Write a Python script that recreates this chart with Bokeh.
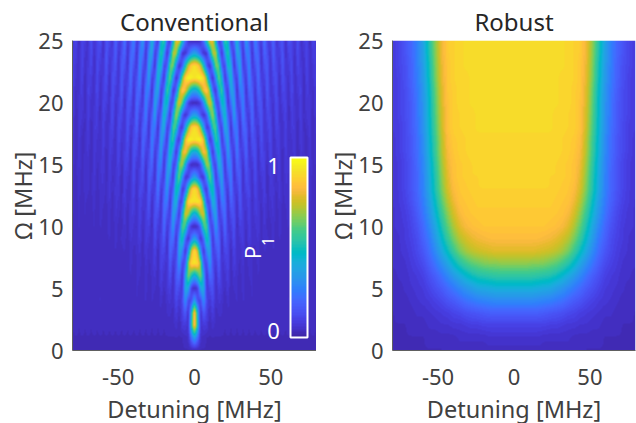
import numpy as np
from bokeh.embed import file_html
from bokeh.resources import INLINE
from bokeh.plotting import figure
from bokeh.layouts import row
from bokeh.models import LinearColorMapper, ColorBar, FixedTicker, Label, Range1d

detuning_ticks = [-50, 0, 50]
rabi_ticks = [0, 5, 10, 15, 20, 25]

# Conventional: P1 in percent. One row per Omega = 0..25 MHz, columns for detuning 0,2,..,80 MHz (mirror-symmetric)
conv_00 = [3]*41
conv_01 = [38,22,5,4,3,3,3,3,3,3,3,3,3,3,3,3,3,3,3,3,3,3,3,3,3,3,3,3,3,3,3,3,3,3,3,3,3,3,3,3,3]
conv_02 = [93,50,5,8,8,3,6,4,4,4,3,4,3,4,3,4,3,4,3,4,3,4,3,4,3,4,3,4,3,4,3,4,3,4,3,4,3,4,3,4,3]
conv_03 = [93,44,3,18,10,4,9,4,5,5,3,4,4,3,4,4,3,4,4,3,4,4,3,4,4,3,4,4,3,4,4,3,4,4,3,4,4,3,4,4,3]
conv_04 = [38,12,11,33,11,6,13,4,7,6,3,6,4,4,5,3,5,4,3,5,4,3,5,4,3,5,4,3,5,4,3,5,4,3,5,4,3,5,4,3,4]
conv_05 = [3,8,39,42,6,12,16,3,10,7,4,8,3,5,5,3,6,3,4,5,3,5,3,4,4,3,5,3,4,4,3,5,3,4,4,3,5,3,4,4,3]
conv_06 = [38,51,69,36,3,22,17,3,15,7,5,10,3,7,5,4,6,3,5,5,3,5,3,4,4,3,5,3,4,4,3,5,3,4,4,3,5,3,4,4,3]
conv_07 = [93,93,69,16,10,35,13,6,19,5,8,11,3,9,6,4,7,3,6,5,3,6,3,4,4,3,5,3,4,4,3,5,3,4,4,3,5,3,4,4,3]
conv_08 = [93,77,33,3,30,40,7,13,22,4,12,11,3,11,5,5,8,3,7,5,4,6,3,5,4,3,5,3,4,4,3,5,3,4,4,3,4,3,4,4,3]
conv_09 = [38,25,4,19,55,34,3,24,21,3,18,10,5,14,4,7,9,3,9,5,5,7,3,6,5,4,6,3,5,4,3,5,3,4,4,3,5,3,4,4,3]
conv_10 = [3,5,20,58,62,15,9,36,15,6,23,7,8,15,3,10,8,4,10,4,6,8,3,7,4,4,6,3,6,4,4,5,3,5,4,3,5,3,5,4,3]
conv_11 = [38,49,71,80,42,4,27,40,7,14,25,4,13,15,3,14,8,5,11,4,8,8,3,8,4,5,7,3,6,4,4,6,3,5,4,4,5,3,5,4,3]
conv_12 = [93,95,92,60,12,11,47,32,3,26,23,3,20,13,4,17,6,7,12,3,10,7,4,9,4,6,7,3,7,4,5,6,3,6,4,4,5,3,5,4,4]
conv_13 = [93,85,58,18,4,40,55,16,9,36,16,6,26,9,8,18,4,11,12,3,12,6,5,10,3,8,7,4,8,4,6,6,3,7,4,5,6,3,6,4,4]
conv_14 = [38,27,9,5,33,66,42,4,25,39,7,15,27,4,14,19,3,15,10,4,14,5,7,10,3,9,6,4,9,3,7,6,4,7,4,5,6,3,6,4,5]
conv_15 = [3,3,12,42,73,64,17,8,44,31,3,27,25,3,21,15,4,18,8,6,15,4,10,10,3,11,5,5,9,3,8,6,4,8,3,6,6,4,7,4,5]
conv_16 = [38,42,64,86,77,35,3,31,52,16,8,37,17,6,27,11,8,21,5,11,15,3,13,9,4,12,4,7,9,3,9,5,5,8,3,7,5,4,7,3,6]
conv_17 = [93,96,98,81,42,5,18,57,43,4,24,39,7,14,29,5,14,21,3,15,13,4,15,7,6,13,3,9,8,4,10,4,6,8,3,8,5,4,7,3,6]
conv_18 = [93,89,68,37,6,14,54,63,19,7,42,30,3,25,25,3,21,18,4,20,10,6,17,5,9,13,3,12,7,4,11,4,8,8,3,9,4,5,8,3,7]
conv_19 = [38,32,15,4,15,51,74,42,4,27,50,17,8,37,17,6,28,12,7,23,6,10,17,4,12,11,4,14,5,6,11,3,9,7,4,10,4,7,7,3,8]
conv_20 = [3,3,9,30,62,82,60,12,12,50,41,4,23,39,7,14,30,6,14,23,3,15,16,3,16,9,5,15,4,9,11,3,11,6,5,10,3,8,7,4,9]
conv_21 = [38,43,60,81,90,68,20,4,40,60,21,6,40,31,3,26,26,3,22,19,4,21,12,5,19,6,9,15,3,12,10,4,13,5,7,11,3,9,6,4,9]
conv_22 = [93,96,99,92,65,24,3,31,65,44,4,23,49,16,8,37,17,6,29,13,7,24,8,9,19,4,12,14,3,15,8,5,13,4,9,9,3,11,5,6,10]
conv_23 = [93,89,76,50,17,3,28,67,63,17,9,47,41,4,23,39,7,14,31,6,14,24,4,15,18,3,17,11,5,17,6,8,13,3,12,8,4,12,4,7,9]
conv_24 = [38,32,19,5,5,33,71,75,33,3,33,57,22,6,39,31,3,26,27,3,23,21,3,21,14,5,20,8,8,17,4,11,12,4,14,6,6,12,4,9,8]
conv_25 = [3,3,6,20,48,79,82,46,5,18,58,46,5,21,47,16,8,37,17,6,30,14,6,26,9,9,21,5,12,16,3,15,10,5,15,5,8,12,3,11,7]

# Robust: P1 in percent. One row per Omega = 0..25 MHz, columns for detuning 0,4,..,80 MHz (mirror-symmetric)
rob_00 = [4,4,4,4,4,4,4,4,4,4,4,4,3,3,3,3,3,3,3,3,3]
rob_01 = [6,6,6,6,6,5,5,5,5,5,4,4,4,4,4,3,3,3,3,3,3]
rob_02 = [10,10,10,10,10,10,9,9,8,7,7,6,6,5,5,4,4,4,3,3,3]
rob_03 = [18,18,18,18,18,17,16,15,14,12,11,9,8,7,6,5,5,4,4,4,3]
rob_04 = [30,30,30,30,29,28,27,25,23,20,17,15,12,10,8,7,6,5,4,4,4]
rob_05 = [42,42,42,42,41,40,39,36,33,29,25,21,17,14,11,8,7,6,5,4,4]
rob_06 = [55,55,55,55,54,53,52,49,45,40,35,29,23,18,14,10,8,7,5,5,4]
rob_07 = [68,68,68,67,67,66,64,62,58,53,46,38,31,24,18,13,10,8,6,5,5]
rob_08 = [78,78,78,78,77,76,75,73,70,65,57,48,39,30,22,16,12,9,7,6,5]
rob_09 = [83,83,83,83,83,82,81,79,76,72,65,56,45,35,25,19,13,10,8,6,5]
rob_10 = [86,86,86,86,86,86,85,84,82,78,71,62,51,39,29,21,15,11,8,7,6]
rob_11 = [87,87,87,87,87,87,87,86,85,82,76,67,56,44,33,24,17,12,9,7,6]
rob_12 = [88,88,88,88,88,88,88,87,86,85,80,72,61,48,36,26,19,14,10,8,6]
rob_13 = [89,89,89,89,89,89,89,88,87,86,83,76,65,52,39,28,20,15,11,8,7]
rob_14 = [90,90,90,90,90,90,89,89,88,87,85,78,67,53,40,28,20,15,11,8,7]
rob_15 = [90,90,90,90,90,90,90,89,88,87,85,80,69,55,41,29,21,15,11,8,7]
rob_16 = [90,90,90,90,90,90,90,90,89,88,86,82,71,57,43,30,22,16,12,9,7]
rob_17 = [90,90,90,90,90,90,90,90,89,88,87,83,72,58,44,31,22,16,12,9,7]
rob_18 = [91,91,91,91,91,91,91,90,90,89,88,85,74,60,45,32,23,17,12,9,8]
rob_19 = [91,91,91,91,91,91,91,90,90,89,88,85,75,61,46,33,24,17,13,10,8]
rob_20 = [91,91,91,91,91,91,91,91,90,90,88,85,76,62,46,33,24,17,13,10,8]
rob_21 = [91,91,91,91,91,91,91,91,90,90,88,86,77,63,47,34,25,18,13,10,8]
rob_22 = [91,91,91,91,91,91,91,91,90,90,89,86,78,65,49,35,26,19,14,10,8]
rob_23 = [91,91,91,91,91,91,91,91,91,90,89,86,79,66,50,36,27,19,14,11,8]
rob_24 = [91,91,91,91,91,91,91,91,91,90,89,87,80,67,52,37,27,20,15,11,8]
rob_25 = [91,91,91,91,91,91,91,91,91,90,89,87,80,68,53,38,28,20,15,11,8]

conv_rows = [conv_00,conv_01,conv_02,conv_03,conv_04,conv_05,conv_06,conv_07,conv_08,conv_09,conv_10,conv_11,conv_12,
             conv_13,conv_14,conv_15,conv_16,conv_17,conv_18,conv_19,conv_20,conv_21,conv_22,conv_23,conv_24,conv_25]
rob_rows = [rob_00,rob_01,rob_02,rob_03,rob_04,rob_05,rob_06,rob_07,rob_08,rob_09,rob_10,rob_11,rob_12,
            rob_13,rob_14,rob_15,rob_16,rob_17,rob_18,rob_19,rob_20,rob_21,rob_22,rob_23,rob_24,rob_25]

parula = [(0.2422,0.1504,0.6603),(0.2504,0.1650,0.7076),(0.2578,0.1818,0.7511),(0.2647,0.1978,0.7952),(0.2706,0.2147,0.8364),
(0.2751,0.2342,0.8710),(0.2783,0.2559,0.8991),(0.2803,0.2782,0.9221),(0.2813,0.3006,0.9414),(0.2810,0.3228,0.9579),
(0.2795,0.3447,0.9717),(0.2760,0.3667,0.9829),(0.2699,0.3892,0.9906),(0.2602,0.4123,0.9952),(0.2440,0.4358,0.9988),
(0.2206,0.4603,0.9973),(0.1963,0.4847,0.9892),(0.1834,0.5074,0.9798),(0.1786,0.5289,0.9682),(0.1764,0.5499,0.9520),
(0.1687,0.5703,0.9359),(0.1540,0.5902,0.9218),(0.1460,0.6091,0.9079),(0.1380,0.6276,0.8973),(0.1248,0.6459,0.8883),
(0.1113,0.6635,0.8763),(0.0952,0.6798,0.8598),(0.0689,0.6948,0.8394),(0.0297,0.7082,0.8163),(0.0036,0.7203,0.7917),
(0.0067,0.7312,0.7660),(0.0433,0.7411,0.7394),(0.0964,0.7500,0.7120),(0.1408,0.7584,0.6842),(0.1717,0.7670,0.6554),
(0.1938,0.7758,0.6251),(0.2161,0.7843,0.5923),(0.2470,0.7918,0.5567),(0.2906,0.7973,0.5188),(0.3406,0.8008,0.4789),
(0.3909,0.8029,0.4354),(0.4456,0.8024,0.3909),(0.5044,0.7993,0.3480),(0.5616,0.7942,0.3045),(0.6174,0.7876,0.2612),
(0.6720,0.7793,0.2227),(0.7242,0.7698,0.1910),(0.7738,0.7598,0.1646),(0.8203,0.7498,0.1535),(0.8634,0.7406,0.1596),
(0.9035,0.7330,0.1774),(0.9393,0.7288,0.2100),(0.9728,0.7298,0.2394),(0.9956,0.7434,0.2371),(0.9970,0.7659,0.2199),
(0.9952,0.7893,0.2028),(0.9892,0.8136,0.1885),(0.9786,0.8386,0.1766),(0.9676,0.8639,0.1643),(0.9610,0.8890,0.1537),
(0.9597,0.9135,0.1423),(0.9628,0.9373,0.1265),(0.9691,0.9606,0.1064),(0.9769,0.9839,0.0805)]
palette = ["#%02x%02x%02x" % tuple(int(round(c*255)) for c in t) for t in parula]

FONT = "Noto Sans"
TEXT = "#404040"

def mirror(rows):
    a = np.array(rows, dtype=float) / 100.0
    return np.hstack([a[:, :0:-1], a])

def shade(grid, xs, ys, w, h):
    # Interpolated shading of the read-off grid, as the reference's shading does: a display raster only.
    xf = np.linspace(xs[0], xs[-1], w)
    yf = np.linspace(ys[0], ys[-1], h)
    tmp = np.array([np.interp(xf, xs, r) for r in grid])
    out = np.array([np.interp(yf, ys, c) for c in tmp.T]).T
    k = np.array([1, 2, 1], dtype=float) / 4
    out = np.apply_along_axis(lambda v: np.convolve(np.pad(v, 1, mode="edge"), k, "valid"), 1, out)
    out = np.apply_along_axis(lambda v: np.convolve(np.pad(v, 1, mode="edge"), k, "valid"), 0, out)
    return out

mapper = LinearColorMapper(palette=palette, low=0, high=1)

def panel(title, grid, step, fw, left, right):
    xs = np.arange(grid.shape[1]) * step - 80.0
    ys = np.arange(grid.shape[0], dtype=float)
    raster = shade(grid, xs, ys, fw, 310)
    p = figure(width=left+fw+right, height=423, frame_width=fw, frame_height=310,
               x_range=Range1d(-80, 80), y_range=Range1d(0, 25),
               output_backend="svg", toolbar_location=None,
               min_border_left=left, min_border_right=right, min_border_top=40, min_border_bottom=73,
               title=title)
    p.title.align = "center"
    p.title.text_font = FONT
    p.title.text_font_size = "24px"
    p.title.text_font_style = "normal"
    p.title.text_color = "#262626"
    p.title.standoff = 5
    p.image(image=[raster], x=-80, y=0, dw=160, dh=25, color_mapper=mapper)
    p.grid.visible = False
    p.outline_line_color = None
    p.xaxis.ticker = FixedTicker(ticks=detuning_ticks)
    p.xaxis.major_label_overrides = {t: str(t) for t in detuning_ticks}
    p.yaxis.ticker = FixedTicker(ticks=rabi_ticks)
    p.xaxis.axis_label = "Detuning [MHz]"
    p.yaxis.axis_label = "\u03a9 [MHz]"
    for ax in (p.xaxis[0], p.yaxis[0]):
        ax.axis_line_color = "#606060"
        ax.axis_line_width = 1
        ax.major_tick_line_color = None
        ax.minor_tick_line_color = None
        ax.major_label_text_font = FONT
        ax.major_label_text_font_size = "22px"
        ax.major_label_text_color = TEXT
        ax.axis_label_text_font = FONT
        ax.axis_label_text_font_size = "23.5px"
        ax.axis_label_text_font_style = "normal"
        ax.axis_label_text_color = TEXT
    p.xaxis.major_label_standoff = 12
    p.yaxis.major_label_standoff = 3
    p.xaxis.axis_label_standoff = 5
    p.yaxis.axis_label_standoff = -4
    return p

p1 = panel("Conventional", mirror(conv_rows), 2, 244, 76, 0)
p2 = panel("Robust", mirror(rob_rows), 4, 243, 76, 1)

cb = ColorBar(color_mapper=mapper, ticker=FixedTicker(ticks=[0, 1]), major_label_overrides={0: "", 1: ""},
              width=17, height=180, location=(218, 13), padding=0, margin=0,
              bar_line_color="white", bar_line_width=2, major_tick_line_color=None, minor_tick_line_color=None,
              background_fill_alpha=0, border_line_color=None, major_label_text_font_size="1px")
p1.add_layout(cb, "center")

def lab(p, x, y, text, size, color, angle=0.0):
    p.add_layout(Label(x=x, y=y, text=text, text_font=FONT, text_font_size=size, text_color=color,
                       text_align="center", text_baseline="middle", angle=angle))

lab(p1, 51.8, 14.9, "1", "22px", "white")
lab(p1, 51.8, 1.6, "0", "22px", "white")
lab(p1, 38, 7.9, "P", "22px", "white", np.pi/2)
lab(p1, 48.2, 8.8, "1", "16px", "white", np.pi/2)
p1.add_layout(Label(x=-116, y=27.9, text="Figures", text_font=FONT, text_font_size="26px", text_font_style="bold",
                    text_color="#1a1a1a", text_align="left", text_baseline="alphabetic"))

page = row(p1, p2, spacing=0, margin=(0, 0, 0, -4))
open("out.html", "w").write(file_html(page, INLINE))
